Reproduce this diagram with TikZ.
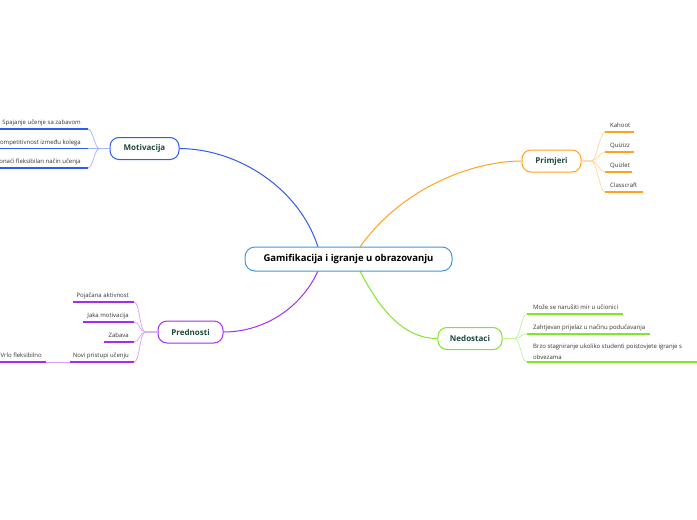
\documentclass[tikz,border=0pt]{standalone}
\usepackage{fontspec}
\setmainfont{Open Sans}
\definecolor{cblue}{HTML}{2E5BF0}
\definecolor{corange}{HTML}{FFA21F}
\definecolor{cgreen}{HTML}{80E62A}
\definecolor{cpurple}{HTML}{A62BF0}
\definecolor{ctitle}{HTML}{1D4A3C}
\definecolor{ctext}{HTML}{333333}
\definecolor{ccentral}{HTML}{3A9BE0}
\tikzset{
  topic/.style={draw=#1, line width=1pt, rounded corners=9pt, fill=white, text=ctitle,
     font=\fontsize{8}{9}\selectfont\bfseries, minimum height=22pt, inner xsep=12pt},
  leaf/.style={text=ctext, font=\fontsize{6}{11}\selectfont, inner sep=0pt},
  uline/.style={draw=#1, line width=1.5pt},
  mainlink/.style={draw=#1, line width=1pt},
  sublink/.style={draw=#1, line width=0.7pt},
  centralbox/.style={draw=ccentral, line width=1pt, rounded corners=10pt, fill=white, text=black,
     font=\fontsize{9.5}{10}\selectfont\bfseries, minimum width=207pt, minimum height=24pt},
}
\begin{document}
\begin{tikzpicture}[x=1pt,y=-1pt]
\useasboundingbox (0,0) rectangle (697,520);
% topics
\node[topic=cblue, minimum width=69pt] (mot) at (144.5,148.5) {Motivacija};
\node[topic=corange, minimum width=59pt] (pri) at (551.5,161) {Primjeri};
\node[topic=cgreen, minimum width=64pt] (ned) at (470,338.5) {Nedostaci};
\node[topic=cpurple, minimum width=65pt] (pre) at (190.5,332) {Prednosti};
% main links
\coordinate (ctl) at (318,247);
\coordinate (ctr) at (360,247);
\coordinate (cbl) at (318,271);
\coordinate (cbr) at (360,271);
\draw[mainlink=cblue] (ctl) .. controls (300,190) and (240,149) .. (mot.east);
\draw[mainlink=corange] (ctr) .. controls (400,190) and (470,161) .. (pri.west);
\draw[mainlink=cpurple] (cbl) .. controls (300,310) and (262,332) .. (pre.east);
\draw[mainlink=cgreen] (cbr) .. controls (385,320) and (410,338.5) .. (ned.west);
% central on top
\node[centralbox] (c) at (348.5,259) {Gamifikacija i igranje u obrazovanju};

% Motivacija children
\coordinate (m1) at (88,129);
\coordinate (m2) at (88,148.5);
\coordinate (m3) at (88,168);
\foreach \p in {m1,m2,m3} {
  \draw[sublink=cblue!45] (mot.west) -- ++(-10,0) .. controls +(-5,0) and +(5,0) .. (\p);
  \draw[uline=cblue] (\p) -- ++(-95,0);
}
\node[leaf, anchor=base east] (m1t) at (81,124.5) {Spajanje učenje sa zabavom};
\node[leaf, anchor=base east] (m2t) at (81,144) {Kompetitivnost između kolega};
\node[leaf, anchor=base east] (m3t) at (81,163.5) {Pronaći fleksibilan način učenja};

% Primjeri children
\coordinate (p1) at (605,132);
\coordinate (p2) at (605,152);
\coordinate (p3) at (605,172);
\coordinate (p4) at (605,192);
\foreach \p in {p1,p2,p3,p4} {
  \draw[sublink=corange!45] (pri.east) -- ++(10,0) .. controls +(5,0) and +(-5,0) .. (\p);
}
\draw[uline=corange] (p1) -- ++(29,0);
\draw[uline=corange] (p2) -- ++(29,0);
\draw[uline=corange] (p3) -- ++(27,0);
\draw[uline=corange] (p4) -- ++(38,0);
\node[leaf, anchor=base west] (p1t) at (610,127.5) {Kahoot};
\node[leaf, anchor=base west] (p2t) at (610,147.5) {Quizizz};
\node[leaf, anchor=base west] (p3t) at (610,167.5) {Quizlet};
\node[leaf, anchor=base west] (p4t) at (610,187.5) {Classcraft};

% Nedostaci children
\coordinate (n1) at (527,314);
\coordinate (n2) at (527,334);
\coordinate (n3) at (527,362);
\foreach \p in {n1,n2,n3} {
  \draw[sublink=cgreen!50] (ned.east) -- ++(12,0) .. controls +(6,0) and +(-6,0) .. (\p);
}
\draw[uline=cgreen] (n1) -- ++(96,0);
\draw[uline=cgreen] (n2) -- ++(123,0);
\draw[uline=cgreen] (n3) -- ++(175,0);
\node[leaf, anchor=base west] (n1t) at (533,309) {Može se narušiti mir u učionici};
\node[leaf, anchor=base west] (n2t) at (533,329) {Zahtjevan prijelaz u načinu podučavanja};
\node[leaf, anchor=base west, align=left] (n3t) at (533,359) {Brzo stagniranje ukoliko studenti poistovjete igranje s\\obvezama};

% Prednosti children
\coordinate (r1) at (134,302);
\coordinate (r2) at (134,322);
\coordinate (r3) at (134,342);
\coordinate (r4) at (134,362);
\foreach \p in {r1,r2,r3,r4} {
  \draw[sublink=cpurple!45] (pre.west) -- ++(-12,0) .. controls +(-6,0) and +(6,0) .. (\p);
}
\draw[uline=cpurple] (r1) -- ++(-61,0);
\draw[uline=cpurple] (r2) -- ++(-51,0);
\draw[uline=cpurple] (r3) -- ++(-30,0);
\draw[uline=cpurple] (r4) -- ++(-64,0) coordinate (r4e);
\node[leaf, anchor=base east] (r1t) at (129,297.5) {Pojačana aktivnost};
\node[leaf, anchor=base east] (r2t) at (129,317.5) {Jaka motivacija};
\node[leaf, anchor=base east] (r3t) at (129,337.5) {Zabava};
\node[leaf, anchor=base east] (r4t) at (129,357.5) {Novi pristupi učenju};
\coordinate (v1) at (46,362);
\draw[sublink=cpurple!45] (r4e) -- (v1);
\draw[uline=cpurple] (v1) -- ++(-50,0);
\node[leaf, anchor=base east] (v1t) at (42,357.5) {Vrlo fleksibilno};
\end{tikzpicture}
\end{document}
